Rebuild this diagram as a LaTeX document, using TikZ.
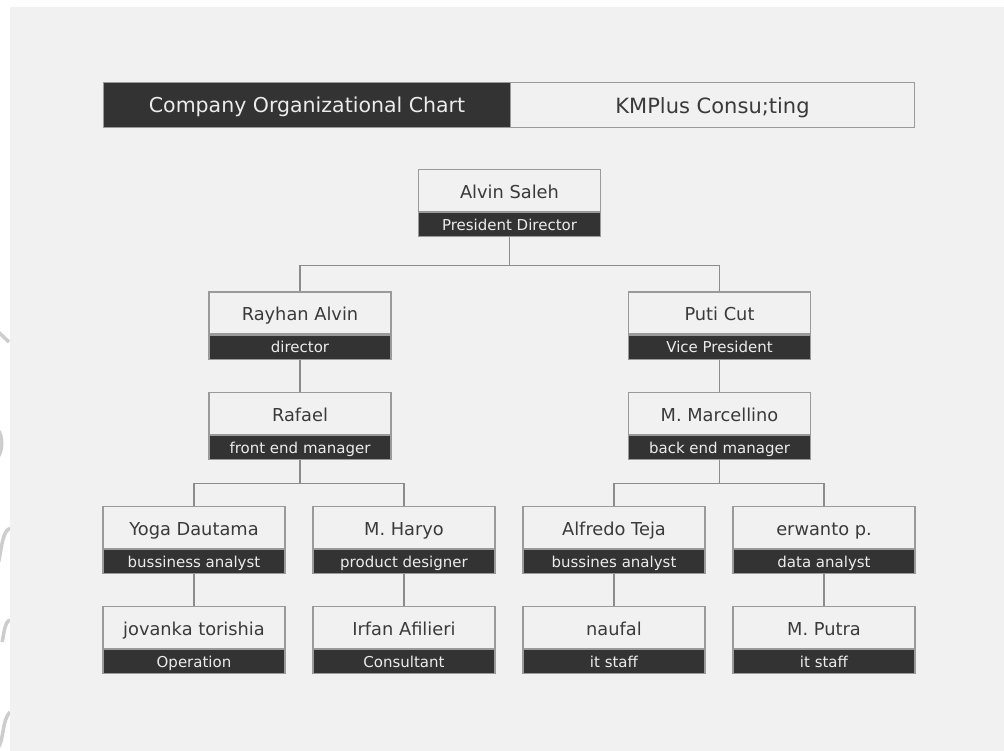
\documentclass[tikz,border=0pt]{standalone}
\usepackage{fontspec}
\setmainfont{DejaVu Sans}
\usetikzlibrary{positioning,calc}
\definecolor{bgc}{HTML}{F1F1F1}
\definecolor{darkc}{HTML}{333333}
\definecolor{edgec}{HTML}{9A9A9A}
\definecolor{linec}{HTML}{8C8C8C}
\definecolor{namec}{HTML}{3A3A3A}
\definecolor{rolec}{HTML}{ECECEC}
\definecolor{wmc}{HTML}{CDCDCD}
\tikzset{
  namebox/.style={draw=edgec, line width=1.2pt, fill=bgc, minimum width=182pt, minimum height=42pt, inner sep=0pt, anchor=north, font=\fontsize{17.8}{20}\selectfont, text=namec, text height=15pt, text depth=0pt},
  rolebox/.style={draw=edgec, line width=1.2pt, fill=darkc, minimum width=182pt, minimum height=24pt, inner sep=0pt, anchor=north, font=\fontsize{15}{17}\selectfont, text=rolec, text height=10.5pt, text depth=0pt},
  conn/.style={draw=linec, line width=1.3pt},
  hdark/.style={draw=edgec, line width=1pt, fill=darkc, minimum width=407pt, minimum height=45pt, inner sep=0pt, anchor=north west, text=rolec, font=\fontsize{20.5}{23}\selectfont, text height=16pt, text depth=0pt},
  hlight/.style={draw=edgec, line width=1pt, fill=bgc, minimum width=404pt, minimum height=45pt, inner sep=0pt, anchor=north west, text=namec, font=\fontsize{21}{23}\selectfont, text height=16.3pt, text depth=0pt},
  wm/.style={draw=wmc, line width=3.5pt}
}
\begin{document}
\begin{tikzpicture}[x=1pt,y=-1pt]
\useasboundingbox (0,0) rectangle (1004,751);
\fill[white] (0,0) rectangle (1004,751);
% watermark pieces on the left strip
\begin{scope}
\clip (0,0) rectangle (10,751);
\draw[wm] (-6,328) -- (9,342);
\draw[wm] (-2,430) .. controls (3,436) and (3,450) .. (-2,457);
\draw[wm] (12,528) .. controls (0,528) and (2,560) .. (-4,568);
\draw[wm] (10,620) .. controls (4,622) and (4,636) .. (2,642);
\draw[wm] (10,712) .. controls (2,720) and (4,740) .. (-2,748);
\end{scope}
\fill[bgc] (10,7) rectangle (1004,751);
% header
\node[hdark] (hleft) at (103,82) {Company Organizational Chart};
\node[hlight] (hright) at (510,82) {KMPlus Consu;ting};
% people
\newcommand{\person}[5]{%
  \node[namebox] (#1) at (#2,#3) {#4};
  \node[rolebox] (#1r) at (#1.south) {#5};
}
\person{alvin}{509.5}{169}{Alvin Saleh}{President Director}
\person{rayhan}{300}{291.5}{Rayhan Alvin}{director}
\person{puti}{719.5}{291.5}{Puti Cut}{Vice President}
\person{rafael}{300}{392}{Rafael}{front end manager}
\person{marc}{719.5}{392}{M. Marcellino}{back end manager}
\person{yoga}{194}{506}{Yoga Dautama}{bussiness analyst}
\person{haryo}{404}{506}{M. Haryo}{product designer}
\person{alfredo}{614}{506}{Alfredo Teja}{bussines analyst}
\person{erwanto}{824}{506}{erwanto p.}{data analyst}
\person{jovanka}{194}{606}{jovanka torishia}{Operation}
\person{irfan}{404}{606}{Irfan Afilieri}{Consultant}
\person{naufal}{614}{606}{naufal}{it staff}
\person{putra}{824}{606}{M. Putra}{it staff}
% connectors
\draw[conn] (alvinr.south) -- ++(0,28) -| (rayhan.north);
\draw[conn] (alvinr.south) -- ++(0,28) -| (puti.north);
\draw[conn] (rayhanr.south) -- (rafael.north);
\draw[conn] (putir.south) -- (marc.north);
\draw[conn] (rafaelr.south) -- ++(0,23) -| (yoga.north);
\draw[conn] (rafaelr.south) -- ++(0,23) -| (haryo.north);
\draw[conn] (marcr.south) -- ++(0,23) -| (alfredo.north);
\draw[conn] (marcr.south) -- ++(0,23) -| (erwanto.north);
\draw[conn] (yogar.south) -- (jovanka.north);
\draw[conn] (haryor.south) -- (irfan.north);
\draw[conn] (alfredor.south) -- (naufal.north);
\draw[conn] (erwantor.south) -- (putra.north);
\end{tikzpicture}
\end{document}
